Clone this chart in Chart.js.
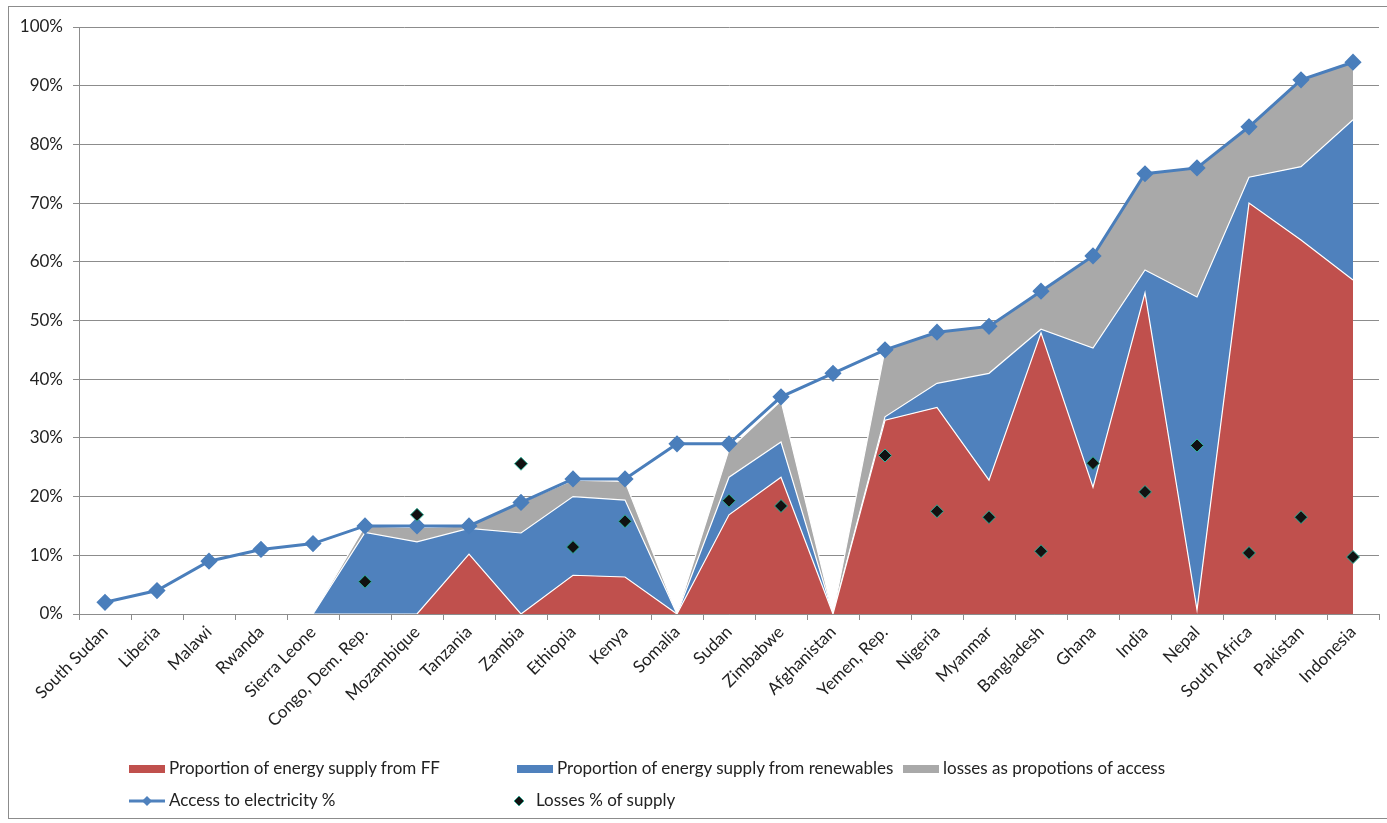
<!DOCTYPE html>
<html lang="en">
<head>
    <meta charset="UTF-8">
    <title>Access to electricity and energy supply</title>
    <script src="https://cdn.jsdelivr.net/npm/chart.js"></script>
    <style>
        body { margin: 0; background: #fff; font-family: Lato, 'Open Sans', sans-serif; }
        #wrap { position: relative; width: 1387px; height: 823px; overflow: hidden; }
        #frame { position: absolute; left: 8px; top: 6px; width: 1400px; height: 813px; border: 1px solid #8c8c8c; box-sizing: border-box; }
        #chart { position: absolute; left: 0; top: 0; }
        .leg { position: absolute; font-size: 17px; color: #222; white-space: nowrap; line-height: 20px; }
        .sw { display: inline-block; width: 36px; height: 8px; vertical-align: middle; margin-right: 4px; position: relative; top: -1px; }
        .leg svg { vertical-align: middle; margin-right: 4px; position: relative; top: -1px; }
    </style>
</head>
<body>
<div id="wrap">
    <div id="frame"></div>
    <canvas id="chart" width="1387" height="823"></canvas>
    <div class="leg" style="left:129px; top:758px;"><span class="sw" style="background:#c0504d"></span>Proportion of energy supply from FF</div>
    <div class="leg" style="left:517px; top:758px;"><span class="sw" style="background:#4f81bd"></span>Proportion of energy supply from renewables</div>
    <div class="leg" style="left:903px; top:758px;"><span class="sw" style="background:#a9a9a9"></span>losses as propotions of access</div>
    <div class="leg" style="left:129px; top:790px;"><svg width="36" height="12"><line x1="0" y1="6" x2="36" y2="6" stroke="#4f81bd" stroke-width="3"/><path d="M18 1 L23 6 L18 11 L13 6 Z" fill="#4f81bd"/></svg>Access to electricity %</div>
    <div class="leg" style="left:513px; top:790px;"><svg width="12" height="12" style="margin-right:11px"><path d="M6 1 L11 6 L6 11 L1 6 Z" fill="#111" stroke="#2fb39a" stroke-width="0.8"/></svg>Losses % of supply</div>
</div>

<script>
    const countries = ['South Sudan', 'Liberia', 'Malawi', 'Rwanda', 'Sierra Leone', 'Congo, Dem. Rep.', 'Mozambique',
        'Tanzania', 'Zambia', 'Ethiopia', 'Kenya', 'Somalia', 'Sudan', 'Zimbabwe', 'Afghanistan', 'Yemen, Rep.',
        'Nigeria', 'Myanmar', 'Bangladesh', 'Ghana', 'India', 'Nepal', 'South Africa', 'Pakistan', 'Indonesia'];

    // access to electricity (%)
    const access = [2, 4, 9, 11, 12, 15, 15, 15, 19, 23, 23, 29, 29, 37, 41, 45, 48, 49, 55, 61, 75, 76, 83, 91, 94];

    // stacked areas (%)
    const supplyFF = [null, null, null, null, 0, 0, 0, 10.2, 0, 6.6, 6.3, 0, 16.9, 23.3, 0, 33, 35.2, 22.8, 47.9, 21.6, 54.7, 0.7, 70, 63.7, 56.9];
    const supplyRenew = [null, null, null, null, 0, 13.9, 12.3, 4.4, 13.8, 13.4, 13.1, 0, 6.4, 6, 0, 0.6, 4.1, 18.2, 0.6, 23.7, 3.9, 53.3, 4.4, 12.5, 27.3];
    const lossesOfAccess = [null, null, null, null, 0, 1.1, 2.4, 0.4, 5.2, 2.8, 3.2, 0, 4.7, 7, 0, 11.4, 8.7, 8, 6.5, 15.7, 16.4, 22, 8.6, 14.8, 9.8];

    // losses as % of supply (markers only)
    const lossesOfSupply = [null, null, null, null, null, 5.5, 16.9, null, 25.6, 11.4, 15.8, null, 19.3, 18.4, null, 27, 17.5, 16.5, 10.7, 25.7, 20.8, 28.7, 10.4, 16.5, 9.7];

    const yTicks = [0, 10, 20, 30, 40, 50, 60, 70, 80, 90, 100];

    document.addEventListener('DOMContentLoaded', function() {
        const ctx = document.getElementById('chart').getContext('2d');
        const font = { family: 'Lato, "Open Sans", sans-serif', size: 17 };

        const area = (label, data, color, fill) => ({
            type: 'line',
            label: label,
            data: data,
            stack: 'supply',
            backgroundColor: color,
            borderColor: '#ffffff',
            borderWidth: 1.2,
            pointRadius: 0,
            fill: fill,
            tension: 0
        });

        new Chart(ctx, {
            type: 'line',
            data: {
                labels: countries,
                datasets: [
                    {
                        label: 'Losses % of supply',
                        data: lossesOfSupply,
                        stack: 'markers',
                        showLine: false,
                        pointStyle: 'rectRot',
                        pointRadius: 6.5,
                        pointBackgroundColor: '#111111',
                        pointBorderColor: '#2fb39a',
                        pointBorderWidth: 1,
                        fill: false
                    },
                    {
                        label: 'Access to electricity %',
                        data: access,
                        stack: 'access',
                        borderColor: '#4a7ebb',
                        borderWidth: 3,
                        pointStyle: 'rectRot',
                        pointRadius: 6.5,
                        pointBackgroundColor: '#4a7ebb',
                        pointBorderColor: '#4a7ebb',
                        fill: false,
                        tension: 0
                    },
                    area('Proportion of energy supply from FF', supplyFF, '#c0504d', 'origin'),
                    area('Proportion of energy supply from renewables', supplyRenew, '#4f81bd', '-1'),
                    area('losses as propotions of access', lossesOfAccess, '#a9a9a9', '-1')
                ]
            },
            options: {
                responsive: false,
                animation: false,
                layout: { autoPadding: false, padding: { top: 27, right: 8, left: 0, bottom: 0 } },
                plugins: {
                    legend: { display: false },
                    tooltip: { enabled: false }
                },
                scales: {
                    x: {
                        offset: true,
                        afterFit: s => { s.height = 209; },
                        grid: { drawOnChartArea: false, offset: true, tickLength: 6, color: '#8c8c8c' },
                        border: { color: '#8c8c8c' },
                        ticks: { minRotation: 45, maxRotation: 45, autoSkip: false, color: '#222', font: font, padding: 2 }
                    },
                    y: {
                        stacked: true,
                        min: 0,
                        max: 100,
                        afterFit: s => { s.width = 79; },
                        afterBuildTicks: s => { s.ticks = yTicks.map(v => ({ value: v })); },
                        grid: { color: '#8c8c8c', tickLength: 6 },
                        border: { color: '#8c8c8c' },
                        ticks: { color: '#222', font: font, padding: 10, callback: v => v + '%' }
                    }
                }
            }
        });
    });
</script>
</body>
</html>
